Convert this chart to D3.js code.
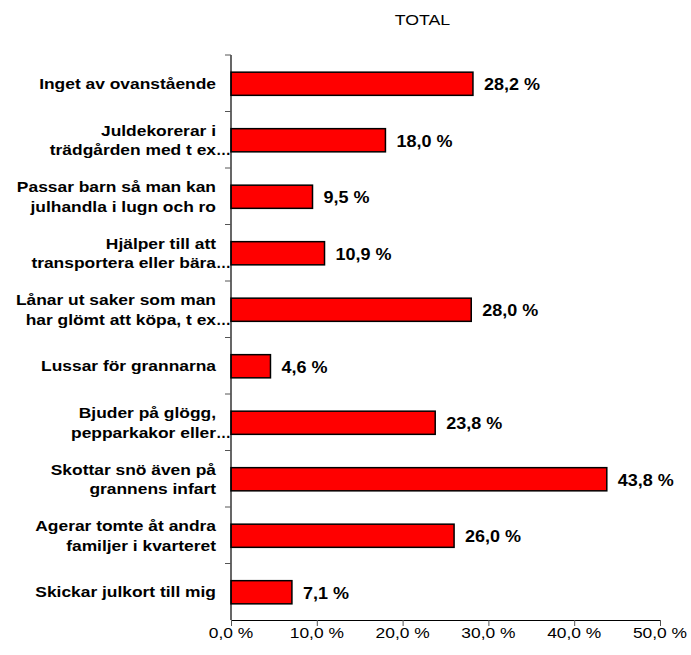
<!DOCTYPE html>
<html><head><meta charset="utf-8">
<script src="https://cdn.jsdelivr.net/npm/d3@7"></script>
<style>body{margin:0;background:#fff}svg{display:block}</style>
</head><body>
<script>
const categories = [
  ["Inget av ovanstående"],
  ["Juldekorerar i", "trädgården med t ex…"],
  ["Passar barn så man kan", "julhandla i lugn och ro"],
  ["Hjälper till att", "transportera eller bära…"],
  ["Lånar ut saker som man", "har glömt att köpa, t ex…"],
  ["Lussar för grannarna"],
  ["Bjuder på glögg,", "pepparkakor eller…"],
  ["Skottar snö även på", "grannens infart"],
  ["Agerar tomte åt andra", "familjer i kvarteret"],
  ["Skickar julkort till mig"]
];
const values = [28.2, 18.0, 9.5, 10.9, 28.0, 4.6, 23.8, 43.8, 26.0, 7.1];
const ticks = [0, 10, 20, 30, 40, 50];
const seriesName = "TOTAL";

(function () {
const W = 691, H = 655;
const mLeft = 231, mRight = 660, mTop = 55, mBottom = 620;
const FF = "Arial, 'Liberation Sans', sans-serif";
const svg = d3.select("body").append("svg").attr("width", W).attr("height", H)
  .style("font-family", FF);

const x = d3.scaleLinear().domain([0, 50]).range([mLeft, mRight]);
const y = d3.scaleBand().domain(d3.range(categories.length)).range([mTop, mBottom]).padding(0);
const fmt = v => d3.format(".1f")(v).replace(".", ",") + " %";

function stext(px, py, sx, txt, size, weight, anchor) {
  return svg.append("text").attr("transform", `translate(${px},${py}) scale(${sx},1)`)
    .attr("text-anchor", anchor || "start").style("font-size", size + "px")
    .style("font-weight", weight || "normal").text(txt);
}

stext(422.5, 25, 1.18, seriesName, 15, "normal", "middle");

const bh = y.bandwidth() * 0.41;
svg.selectAll("rect.bar").data(values).join("rect").attr("class", "bar")
  .attr("x", x(0)).attr("y", (d, i) => y(i) + y.bandwidth() / 2 - bh / 2 + 0.5)
  .attr("width", d => x(d) - x(0)).attr("height", bh)
  .attr("fill", "#ff0000").attr("stroke", "#000").attr("stroke-width", 1.5);

values.forEach((v, i) => {
  stext(x(v) + 11, y(i) + y.bandwidth() / 2 + 7, 1.06, fmt(v), 17, "bold", "start");
});

const xAxis = d3.axisBottom(x).tickValues(ticks).tickFormat("").tickSize(6).tickSizeOuter(0);
const gx = svg.append("g").attr("transform", `translate(0,${mBottom})`).call(xAxis);
gx.select(".domain").attr("stroke", "#000").attr("stroke-width", 1.2);
gx.selectAll(".tick line").attr("stroke", "#555");
ticks.forEach(t => stext(x(t), 638, 1.16, fmt(t), 15, "normal", "middle"));

svg.append("line").attr("x1", mLeft).attr("x2", mLeft).attr("y1", mTop).attr("y2", mBottom)
  .attr("stroke", "#000").attr("stroke-width", 1.2);
const bounds = d3.range(categories.length).map(i => y(i));
svg.selectAll("line.yt").data(bounds).join("line").attr("class", "yt")
  .attr("x1", mLeft - 6).attr("x2", mLeft).attr("y1", d => d).attr("y2", d => d)
  .attr("stroke", "#555");

categories.forEach((lines, i) => {
  const c = y(i) + y.bandwidth() / 2;
  lines.forEach((ln, j) => {
    const by = c + 5.5 + (j - (lines.length - 1) / 2) * 19.5;
    const ell = ln.endsWith("…");
    const main = ell ? ln.slice(0, -1) : ln;
    stext(216, by, 1.16, main, 15, "bold", "end");
    if (ell) stext(216, by, 1.0, "…", 15, "bold", "start");
  });
});
})();
</script>
</body></html>
